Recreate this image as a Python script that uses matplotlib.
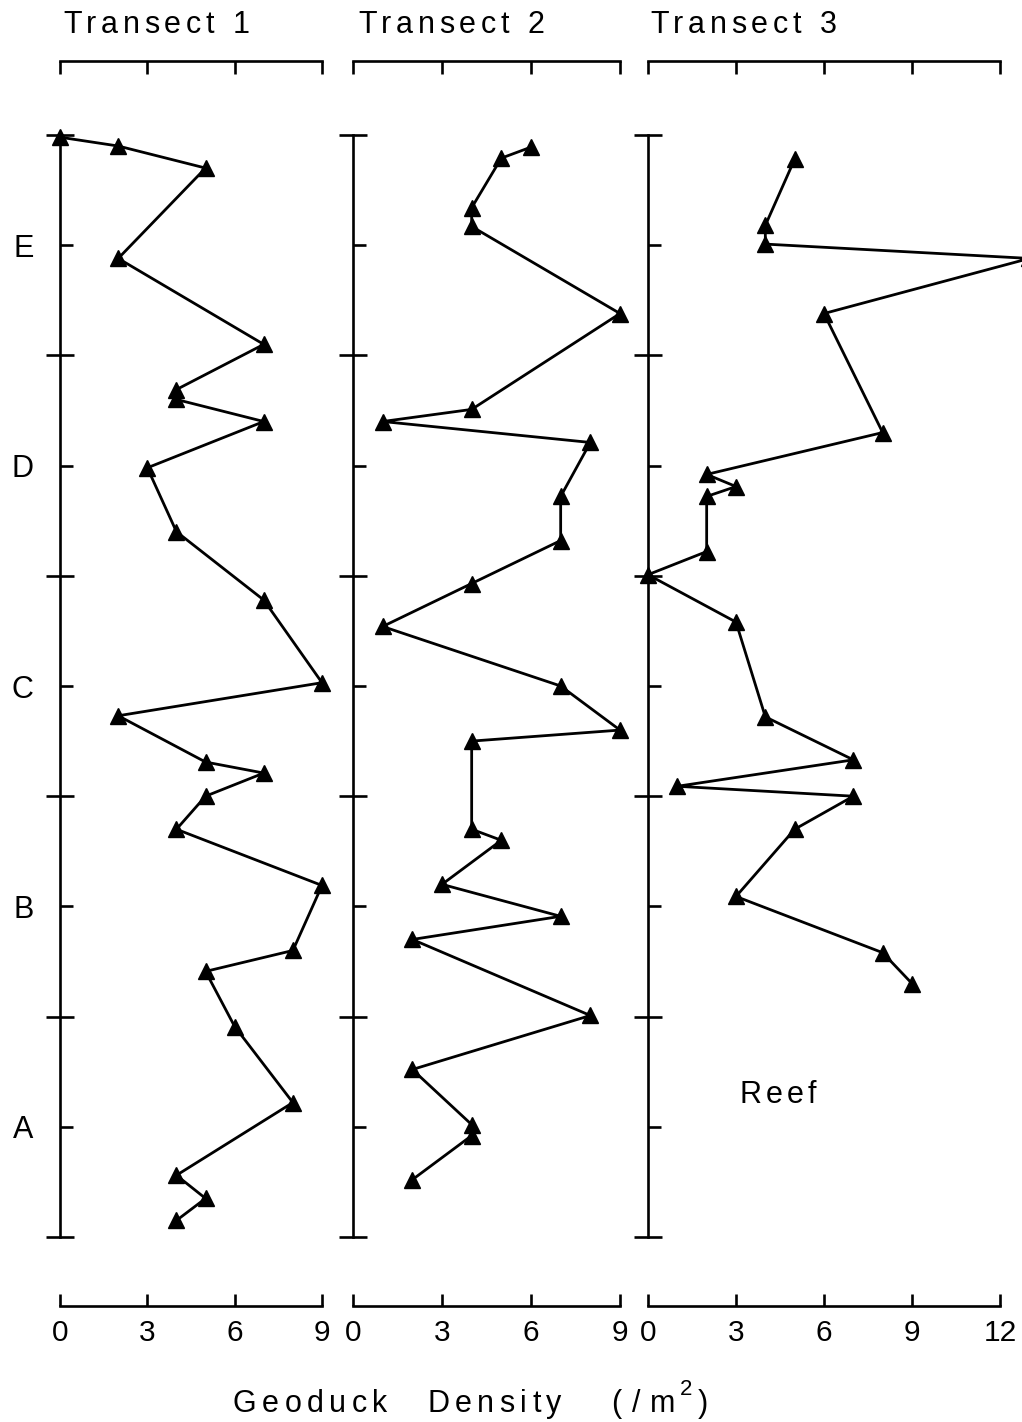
import matplotlib
matplotlib.use("Agg")
import matplotlib.pyplot as plt
from matplotlib.font_manager import FontProperties
from matplotlib.transforms import IdentityTransform

plt.rcParams['font.family'] = ['Liberation Sans', 'DejaVu Sans']

# position along each transect (tick units, 0 = top) and geoduck density (/m2)
t1_pos = [0.02, 0.10, 0.30, 1.12, 1.90, 2.31, 2.40, 2.60, 3.02, 3.60, 4.22, 4.97,
          5.27, 5.69, 5.79, 6.00, 6.30, 6.81, 7.40, 7.59, 8.09, 8.78, 9.44, 9.65, 9.85]
t1_dens = [0, 2, 5, 2, 7, 4, 4, 7, 3, 4, 7, 9, 2, 5, 7, 5, 4, 9, 8, 5, 6, 8, 4, 5, 4]

t2_pos = [0.11, 0.21, 0.66, 0.83, 1.62, 2.49, 2.60, 2.79, 3.28, 3.68, 4.07, 4.46,
          5.00, 5.40, 5.50, 6.30, 6.40, 6.80, 7.09, 7.30, 7.99, 8.48, 8.98, 9.08, 9.48]
t2_dens = [6, 5, 4, 4, 9, 4, 1, 8, 7, 7, 4, 1, 7, 9, 4, 4, 5, 3, 7, 2, 8, 2, 4, 4, 2]

t3_pos = [0.22, 0.82, 0.99, 1.12, 1.62, 2.70, 3.08, 3.19, 3.28, 3.78, 3.99, 4.42,
          5.28, 5.67, 5.91, 6.00, 6.30, 6.91, 7.42, 7.70]
t3_dens = [5, 4, 4, 13, 6, 8, 2, 3, 2, 2, 0, 3, 4, 7, 1, 7, 5, 3, 8, 9]

zones = ['E', 'D', 'C', 'B', 'A']
zone_pos = [1, 3, 5, 7, 9]
titles = ['Transect  1', 'Transect  2', 'Transect  3']
xmax = [9, 9, 12]
xticks = [[0, 3, 6, 9], [0, 3, 6, 9], [0, 3, 6, 9, 12]]

W, H = 1022, 1422
fig = plt.figure(figsize=(W / 100, H / 100), dpi=100)
fig.patch.set_facecolor('white')

# panel left edges / widths in pixels
panel_px = [(60, 262), (353, 267), (648, 352)]
top_px, bot_px = 135, 1237

series = [(t1_pos, t1_dens), (t2_pos, t2_dens), (t3_pos, t3_dens)]
lw = 1.9

for i, ((x0, w), (pos, dens)) in enumerate(zip(panel_px, series)):
    ax = fig.add_axes([x0 / W, 1 - bot_px / H, w / W, (bot_px - top_px) / H])
    ax.set_facecolor('none')
    ax.set_xlim(0, xmax[i])
    ax.set_ylim(10, 0)
    ax.plot(dens, pos, color='black', lw=2.0, marker='^', ms=12,
            clip_on=False, zorder=3)

    ax.spines['right'].set_visible(False)
    for s in ['left', 'top', 'bottom']:
        ax.spines[s].set_linewidth(lw)
    ax.spines['left'].set_bounds(0, 10)
    ax.spines['bottom'].set_position(('outward', 50))
    ax.spines['top'].set_position(('outward', 53))

    ax.set_xticks(xticks[i])
    ax.tick_params(axis='x', which='major', direction='in', length=9, width=lw,
                   top=True, labeltop=False, bottom=True, labelbottom=True,
                   labelsize=21.5, pad=9)
    ax.set_yticks([0, 2, 4, 6, 8, 10])
    ax.set_yticks(zone_pos, minor=True)
    ax.tick_params(axis='y', which='major', direction='inout', length=20,
                   width=lw, labelleft=False)
    ax.tick_params(axis='y', which='minor', direction='in', length=9.5,
                   width=lw, labelsize=22, pad=19)
    if i == 0:
        ax.set_yticklabels(zones, minor=True)
    else:
        ax.set_yticklabels([], minor=True)

fig.canvas.draw()
renderer = fig.canvas.get_renderer()


def spaced_text(x, y, s, size, tracking, space=None):
    # draw text letter by letter with extra spacing (pixel coords, y from top)
    fp = FontProperties(family=['Liberation Sans', 'DejaVu Sans'], size=size)
    size_px = size * 100 / 72
    if space is None:
        space = 0.28 * size_px
    cx = x
    for ch in s:
        if ch == ' ':
            cx += space
            continue
        fig.text(cx, H - y, ch, fontproperties=fp, ha='left', va='baseline',
                 transform=IdentityTransform())
        cw, _, _ = renderer.get_text_width_height_descent(ch, fp, ismath=False)
        cx += cw + tracking
    return cx


title_x = [63, 358, 650]
for tx, t in zip(title_x, titles):
    spaced_text(tx, 33, t, 22, 4.6, space=7)

# axis label, drawn word by word
spaced_text(233, 1412, 'Geoduck', 22, 5.5)
spaced_text(427, 1412, 'Density', 22, 5.5)
spaced_text(611, 1412, '(', 22, 0)
spaced_text(632, 1412, '/', 22, 0)
spaced_text(650, 1412, 'm', 22, 0)
spaced_text(680, 1395, '2', 16, 0)
spaced_text(698, 1412, ')', 22, 0)

spaced_text(740, 1103, 'Reef', 22, 4.0)

fig.savefig('out.png', dpi=100, facecolor='white')
